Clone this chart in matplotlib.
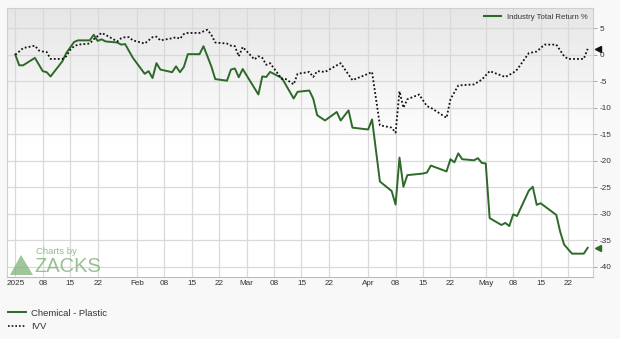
import numpy as np
import matplotlib
matplotlib.use("Agg")
from matplotlib import pyplot as plt
import matplotlib.dates as mdates
from matplotlib.colors import LinearSegmentedColormap
from matplotlib.patches import Polygon
from matplotlib.lines import Line2D

plt.rcParams['font.family'] = ['Liberation Sans', 'DejaVu Sans']

# Chemical - Plastic industry total return %
chem_dates = ["2025-01-01", "2025-01-02", "2025-01-03", "2025-01-06", "2025-01-08", "2025-01-09",
              "2025-01-10", "2025-01-13", "2025-01-14", "2025-01-16", "2025-01-17", "2025-01-20",
              "2025-01-21", "2025-01-22", "2025-01-23", "2025-01-24", "2025-01-27", "2025-01-28",
              "2025-01-29", "2025-01-31", "2025-02-03", "2025-02-04", "2025-02-05", "2025-02-06",
              "2025-02-07", "2025-02-10", "2025-02-11", "2025-02-12", "2025-02-13", "2025-02-14",
              "2025-02-17", "2025-02-18", "2025-02-20", "2025-02-21", "2025-02-24", "2025-02-25",
              "2025-02-26", "2025-02-27", "2025-02-28", "2025-03-04", "2025-03-05", "2025-03-06",
              "2025-03-07", "2025-03-10", "2025-03-13", "2025-03-14", "2025-03-17", "2025-03-18",
              "2025-03-19", "2025-03-21", "2025-03-24", "2025-03-25", "2025-03-27", "2025-03-28",
              "2025-04-01", "2025-04-02", "2025-04-04", "2025-04-07", "2025-04-08", "2025-04-09",
              "2025-04-10", "2025-04-11", "2025-04-15", "2025-04-16", "2025-04-17", "2025-04-21",
              "2025-04-22", "2025-04-23", "2025-04-24", "2025-04-25", "2025-04-28", "2025-04-29",
              "2025-04-30", "2025-05-01", "2025-05-02", "2025-05-05", "2025-05-06", "2025-05-07",
              "2025-05-08", "2025-05-09", "2025-05-12", "2025-05-13", "2025-05-14", "2025-05-15",
              "2025-05-19", "2025-05-20", "2025-05-21", "2025-05-23", "2025-05-26", "2025-05-27"]
chem_values = [0.0, -2.0, -2.0, -0.6, -3.1, -3.3,
               -4.1, -1.25, 0.3, 2.4, 2.7, 2.7,
               3.75, 2.6, 2.9, 2.5, 2.3, 1.9,
               2.0, -0.6, -3.6, -3.1, -4.4, -1.6,
               -2.8, -3.3, -2.2, -3.3, -2.3, 0.1,
               0.1, 1.6, -2.2, -4.6, -4.9, -2.8,
               -2.6, -4.25, -2.7, -7.5, -4.1, -4.2,
               -3.25, -4.4, -8.25, -7.0, -6.75, -8.3,
               -11.4, -12.4, -10.8, -12.4, -10.5, -13.75,
               -14.1, -12.2, -23.9, -25.7, -28.25, -19.4,
               -24.9, -22.7, -22.4, -22.2, -20.9, -22.0,
               -19.7, -20.3, -18.6, -19.7, -19.9, -19.5,
               -20.4, -20.5, -30.8, -32.1, -31.7, -32.3,
               -30.1, -30.4, -25.6, -24.9, -28.3, -28.0,
               -30.2, -33.4, -35.8, -37.5, -37.5, -36.4]

# IVV total return %
ivv_dates = ["2025-01-01", "2025-01-02", "2025-01-03", "2025-01-06", "2025-01-07", "2025-01-08",
             "2025-01-09", "2025-01-10", "2025-01-13", "2025-01-14", "2025-01-15", "2025-01-16",
             "2025-01-17", "2025-01-20", "2025-01-21", "2025-01-23", "2025-01-24", "2025-01-27",
             "2025-01-28", "2025-01-29", "2025-01-30", "2025-01-31", "2025-02-03", "2025-02-04",
             "2025-02-05", "2025-02-06", "2025-02-07", "2025-02-10", "2025-02-11", "2025-02-12",
             "2025-02-13", "2025-02-14", "2025-02-17", "2025-02-18", "2025-02-19", "2025-02-20",
             "2025-02-21", "2025-02-24", "2025-02-25", "2025-02-26", "2025-02-27", "2025-02-28",
             "2025-03-03", "2025-03-04", "2025-03-05", "2025-03-06", "2025-03-07", "2025-03-10",
             "2025-03-11", "2025-03-13", "2025-03-14", "2025-03-17", "2025-03-18", "2025-03-19",
             "2025-03-21", "2025-03-25", "2025-03-26", "2025-03-28", "2025-04-01", "2025-04-02",
             "2025-04-04", "2025-04-07", "2025-04-08", "2025-04-09", "2025-04-10", "2025-04-11",
             "2025-04-14", "2025-04-16", "2025-04-17", "2025-04-21", "2025-04-22", "2025-04-24",
             "2025-04-28", "2025-04-30", "2025-05-02", "2025-05-06", "2025-05-08", "2025-05-09",
             "2025-05-12", "2025-05-14", "2025-05-16", "2025-05-19", "2025-05-21", "2025-05-22",
             "2025-05-26", "2025-05-27"]
ivv_values = [0.0, 0.6, 1.25, 1.7, 0.8, 0.6,
              0.5, -0.8, -0.8, -0.3, 0.9, 1.6,
              1.9, 2.1, 2.9, 4.1, 3.75, 2.5,
              3.1, 3.3, 3.3, 2.7, 2.1, 2.7,
              3.3, 3.4, 2.7, 3.1, 3.3, 3.0,
              3.9, 4.1, 4.1, 4.4, 4.7, 3.75,
              2.3, 2.1, 1.7, 1.6, -0.3, 1.45,
              -0.9, -0.3, -0.6, -1.9, -1.6, -4.6,
              -4.6, -5.6, -3.6, -3.25, -4.2, -3.1,
              -3.25, -1.6, -2.7, -4.8, -3.6, -3.25,
              -13.3, -13.75, -14.7, -6.9, -10.0, -8.4,
              -7.5, -9.7, -10.0, -11.9, -8.4, -5.8,
              -5.6, -4.7, -3.1, -4.2, -3.4, -2.8,
              0.3, 0.6, 1.9, 1.9, -0.3, -0.8,
              -0.8, 1.1]

y_ticks = [5, 0, -5, -10, -15, -20, -25, -30, -35, -40]
month_starts = ["2025-01-01", "2025-02-01", "2025-03-01", "2025-04-01", "2025-05-01"]
month_labels = ["2025", "Feb", "Mar", "Apr", "May"]
tick_days = ["01", "08", "15", "22"]

green = "#2d6a2a"
grid_c = "#d9d9d9"
txt_c = "#333333"

fig = plt.figure(figsize=(6.2, 3.39), dpi=100, facecolor="#f8f8f8")
ax = fig.add_axes([7 / 620, 1 - 277 / 339, 586 / 620, 269 / 339])

cx = np.array(chem_dates, dtype="datetime64[D]")
ix = np.array(ivv_dates, dtype="datetime64[D]")

ax.plot(cx, chem_values, color=green, lw=1.4, zorder=4, solid_joinstyle="round")
ax.plot(ix, ivv_values, color="#111111", lw=1.3, ls=(0, (1, 1.2)), zorder=4)

# end markers on the right edge
tr = ax.get_yaxis_transform()
ax.plot([1.008], [ivv_values[-1]], marker="<", ms=5, color="#111111", transform=tr, clip_on=False)
ax.plot([1.008], [chem_values[-1]], marker="<", ms=5, color=green, transform=tr, clip_on=False)

# background gradient
cmap = LinearSegmentedColormap.from_list("bg", ["#ffffff", "#ffffff", "#e6e6e6"])
grad = np.linspace(0, 1, 256).reshape(-1, 1)
ax.imshow(grad, extent=[0, 1, 0, 1], transform=ax.transAxes, aspect="auto",
          cmap=cmap, origin="lower", zorder=0)

# axis limits
x0 = mdates.date2num(np.datetime64("2025-01-01")) - 2.12
x1 = mdates.date2num(np.datetime64("2025-01-01")) + 147.36
ax.set_xlim(x0, x1)
ax.set_ylim(-41.9, 8.8)

# x ticks
xt, xl = [], []
for ms, lab in zip(month_starts, month_labels):
    for d in tick_days:
        xt.append(np.datetime64(ms[:8] + d))
        xl.append(lab if d == "01" else d)
ax.set_xticks(mdates.date2num(np.array(xt, dtype="datetime64[D]")))
ax.set_xticklabels(xl)
ax.set_yticks(y_ticks)
ax.set_yticklabels([str(v) for v in y_ticks])
ax.yaxis.tick_right()
ax.tick_params(axis="x", length=0, pad=2, labelsize=5.9, labelcolor=txt_c)
ax.tick_params(axis="y", length=3, width=0.6, color="#999999", pad=2, labelsize=5.9, labelcolor=txt_c)
ax.grid(True, color=grid_c, lw=0.9, zorder=1)
ax.set_axisbelow(True)
for s in ax.spines.values():
    s.set_color("#cfcfcf")
    s.set_linewidth(0.8)
ax.spines["bottom"].set_color("#bbbbbb")

# legend inside (top right)
ax.legend([Line2D([], [], color=green, lw=1.5)], ["Industry Total Return %"],
          loc="upper right", frameon=False, fontsize=5.6, handlelength=2.2,
          borderaxespad=0.3, labelcolor=txt_c)

# bottom legend
fig.legend([Line2D([], [], color=green, lw=1.4),
            Line2D([], [], color="#111111", lw=1.2, ls=(0, (1, 1.2)))],
           ["Chemical - Plastic", "IVV"], loc="lower left", bbox_to_anchor=(0.0, 0.0),
           frameon=False, fontsize=6.8, handlelength=2.0, handletextpad=0.5,
           labelspacing=0.5, borderaxespad=0.4, labelcolor=txt_c)

# Zacks watermark
wm = "#7fb27a"
fig.text(36 / 620, 1 - 251 / 339, "Charts by", color=wm, fontsize=6.8, alpha=0.85,
         va="center", ha="left")
fig.text(34 / 620, 1 - 267 / 339, "ZACKS", color=wm, fontsize=14.5, alpha=0.8,
         va="center", ha="left")
tri = Polygon([(10 / 620, 1 - 275 / 339), (33 / 620, 1 - 275 / 339), (21 / 620, 1 - 255 / 339)],
              closed=True, transform=fig.transFigure, facecolor=wm, alpha=0.75, edgecolor="none")
fig.patches.append(tri)

fig.savefig("out.png", dpi=100, facecolor=fig.get_facecolor())
